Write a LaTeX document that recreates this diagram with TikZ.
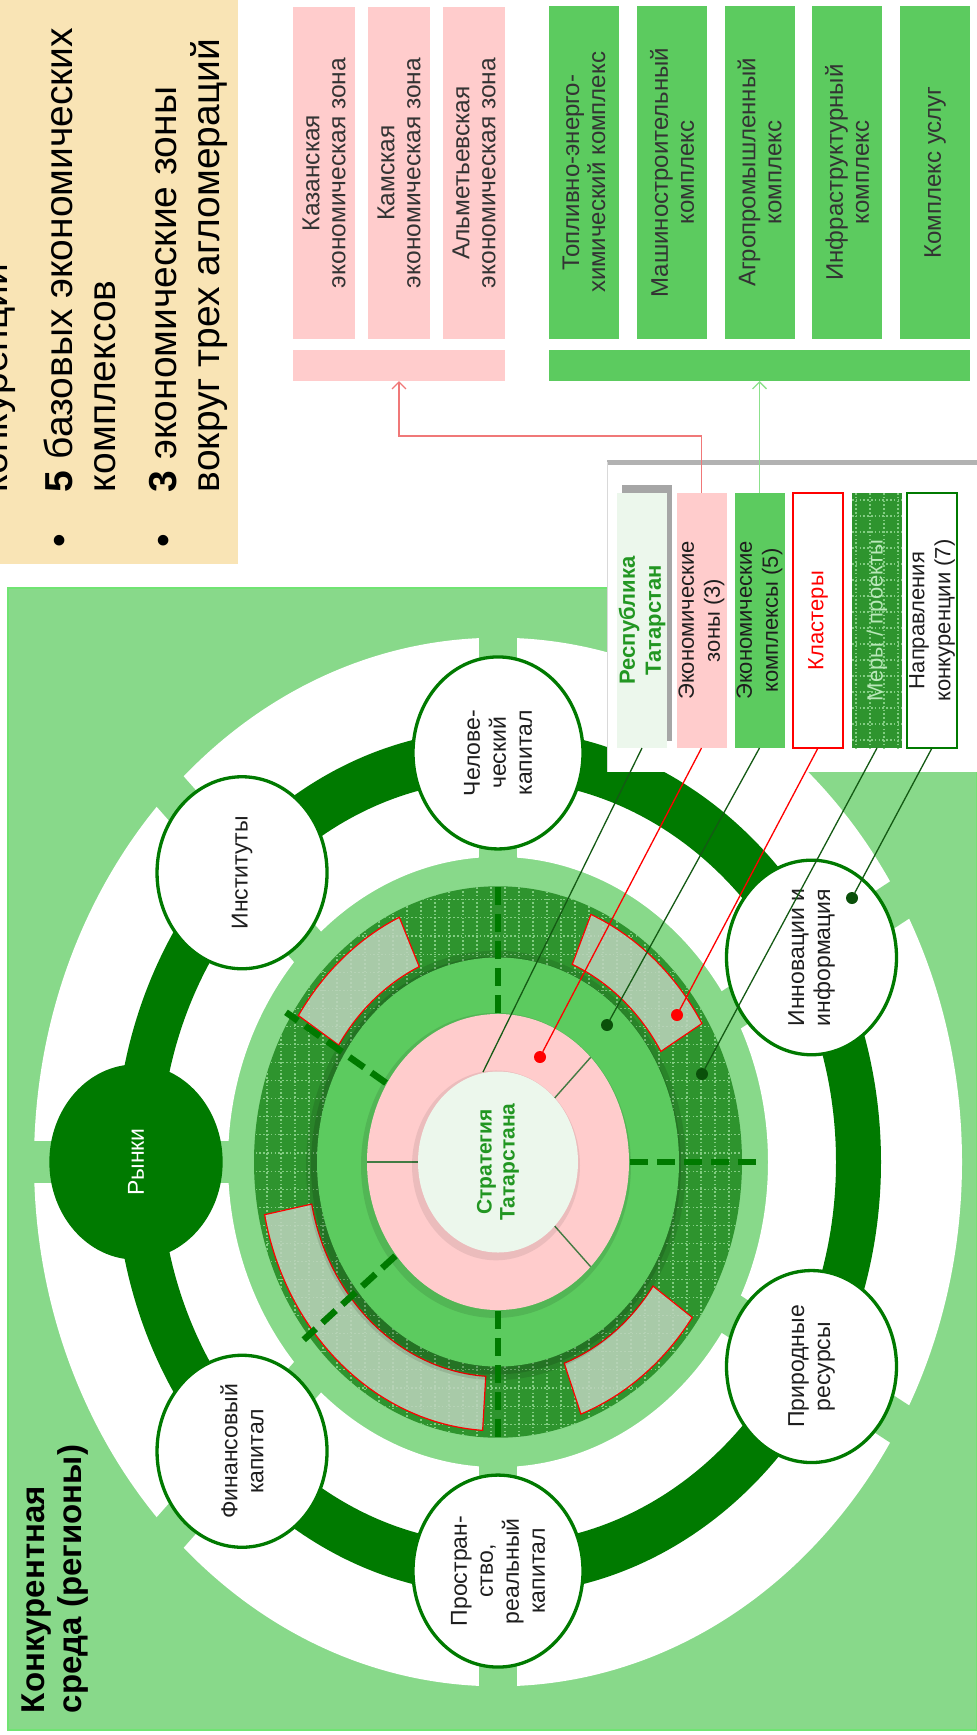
\documentclass[tikz,border=0pt]{standalone}
\usepackage{fontspec}
\setmainfont{Liberation Sans}
\usetikzlibrary{shapes.geometric, arrows.meta, calc}

\definecolor{bgGreen}{RGB}{136,217,138}
\definecolor{bgEdge}{RGB}{112,228,114}
\definecolor{bandGreen}{RGB}{0,122,0}
\definecolor{midGreen}{RGB}{92,203,95}
\definecolor{dotGreen}{RGB}{46,148,46}
\definecolor{gridGreen}{RGB}{130,205,130}
\definecolor{clusterGrey}{RGB}{190,212,190}
\definecolor{zonePink}{RGB}{255,204,204}
\definecolor{coreGreen}{RGB}{236,247,236}
\definecolor{noteYellow}{RGB}{249,228,181}
\definecolor{titleGreen}{RGB}{34,150,34}
\definecolor{txtGrey}{RGB}{51,51,51}
\definecolor{txtDark}{RGB}{30,30,30}
\definecolor{leaderGreen}{RGB}{20,90,20}
\definecolor{dotDark}{RGB}{10,80,10}
\definecolor{arrowPink}{RGB}{240,120,120}
\definecolor{arrowGreen}{RGB}{140,225,140}
\definecolor{measText}{RGB}{185,232,185}

\begin{document}
\begin{tikzpicture}[x=1pt, y=-1pt,
  every node/.style={inner sep=0pt, outer sep=0pt},
  boxlabel/.style={rotate=90, align=center, text=txtGrey},
  zonebox/.style={boxlabel, fill=zonePink, minimum width=332pt, minimum height=62pt,
    font=\fontsize{24.5}{26}\selectfont},
  complexbox/.style={boxlabel, fill=midGreen, minimum width=333pt, minimum height=70pt,
    font=\fontsize{24}{26}\selectfont},
  legendtile/.style={rotate=90, align=center, minimum width=255pt, minimum height=50pt,
    font=\fontsize{22}{26}\selectfont, text=txtDark},
  kcircle/.style={ellipse, rotate=90, align=center, minimum width=192pt, minimum height=170pt,
    draw=bandGreen, line width=3.3pt, fill=white, font=\fontsize{23}{26}\selectfont, text=txtDark},
  ytext/.style={rotate=90, font=\fontsize{39}{43}\selectfont, text=black},
  leaderdot/.style={circle, minimum size=12pt},
  leaderdark/.style={draw=leaderGreen, line width=1.3pt},
  leaderred/.style={draw=red, line width=1.3pt},
  gridline/.style={draw=gridGreen, line width=1.1pt, dash pattern=on 1.6pt off 2.2pt},
  spoke/.style={draw=bandGreen, line width=6.5pt, dash pattern=on 18pt off 9pt},
  zoneline/.style={draw=leaderGreen!80, line width=1.4pt},
  clusterseg/.style={fill=clusterGrey, fill opacity=0.85, draw=red, line width=1.2pt},
  linkarrow/.style={line width=1.3pt, -{Straight Barb[length=7pt, width=14pt]}},
]
\useasboundingbox (0,0) rectangle (977,1735);

% ---------- summary note ----------
\fill[noteYellow] (0,0) rectangle (238,564);
\node[ytext, anchor=base west] (noteA) at (8,492) {конкуренции};
\node[ytext, anchor=base] (bulletA) at (72,541) {•};
\node[ytext, anchor=base west] (noteB) at (72,492) {\textbf{5} базовых экономических};
\node[ytext, anchor=base west] (noteC) at (115,492) {комплексов};
\node[ytext, anchor=base] (bulletB) at (176,541) {•};
\node[ytext, anchor=base west] (noteD) at (176,492) {\textbf{3} экономические зоны};
\node[ytext, anchor=base west] (noteE) at (219,492) {вокруг трех агломераций};

% ---------- economic zones ----------
\node[zonebox] (zKaz) at (324,173) {Казанская\\экономическая зона};
\node[zonebox] (zKam) at (399,173) {Камская\\экономическая зона};
\node[zonebox] (zAlm) at (474,173) {Альметьевская\\экономическая зона};
\node[fill=zonePink, minimum width=212pt, minimum height=31pt] (pinkBar) at (399,365.5) {};

% ---------- economic complexes ----------
\node[complexbox] (cFuel) at (584,172.5) {Топливно-энерго-\\химический комплекс};
\node[complexbox] (cMach) at (672,172.5) {Машиностроительный\\комплекс};
\node[complexbox] (cAgro) at (759.5,172.5) {Агропромышленный\\комплекс};
\node[complexbox] (cInfr) at (847,172.5) {Инфраструктурный\\комплекс};
\node[complexbox] (cServ) at (935,172.5) {Комплекс услуг};
\node[fill=midGreen, minimum width=421pt, minimum height=31pt] (greenBar) at (759.5,365.5) {};

% ---------- competitive environment ----------
\filldraw[fill=bgGreen, draw=bgEdge, line width=1.2pt] (8,588) rectangle (977,1730);

\begin{scope}[shift={(498,1162)}, yscale=1.13]
  % white ring with gaps at the factors
  \fill[white, even odd rule] (0,0) circle (464) (0,0) circle (270);
  \foreach \a in {180,225,270,330,30,90,135}
    \fill[bgGreen, rotate=-\a] (256,-19) rectangle (474,19);
  % band linking the factors
  \fill[bandGreen, even odd rule] (0,0) circle (383) (0,0) circle (338);
  % measures ring with dotted texture
  \fill[dotGreen] (0,0) circle (244);
  \begin{scope}
    \clip (0,0) circle (244);
    \foreach \g in {-245,-231,...,245} \draw[gridline] (\g,-250) -- (\g,250);
    \foreach \g in {-248,-232,...,248} \draw[gridline] (-250,\g) -- (250,\g);
  \end{scope}
  % clusters
  \path[clusterseg] (213:190) arc[start angle=213, end angle=245.5, radius=190]
    -- (245.5:238) arc[start angle=245.5, end angle=213, radius=238] -- cycle;
  \path[clusterseg] (293:190) arc[start angle=293, end angle=329, radius=190]
    -- (329:238) arc[start angle=329, end angle=293, radius=238] -- cycle;
  \path[clusterseg] (35.3:190) arc[start angle=35.3, end angle=69.6, radius=190]
    -- (69.6:238) arc[start angle=69.6, end angle=35.3, radius=238] -- cycle;
  \path[clusterseg] (93.7:190) arc[start angle=93.7, end angle=168.7, radius=190]
    -- (168.7:238) arc[start angle=168.7, end angle=93.7, radius=238] -- cycle;
  % soft shade round the complexes ring
  \fill[black, opacity=0.10] (-2,3) circle (190);
  \fill[black, opacity=0.12] (-2,3) circle (185);
  % economic complexes ring
  \fill[midGreen] (0,0) circle (181);
  % economic zones ring
  \fill[black, opacity=0.10] (-2,3) circle (135);
  \fill[zonePink] (0,0) circle (131);
  \foreach \a in {180,315,45} \draw[zoneline] (\a:80) -- (\a:131);
  % complex boundaries
  \foreach \a/\r in {0/258,90/246,141/250,212/250,270/246}
    \draw[spoke] (\a:132) -- (\a:\r);
  % core
  \fill[black, opacity=0.08] (-2,3) circle (84);
  \node[ellipse, fill=coreGreen, minimum width=181pt, minimum height=160pt, rotate=90,
    align=center, text=titleGreen, font=\bfseries\fontsize{21}{23}\selectfont]
    (core) at (0,0) {Стратегия\\Татарстана};
  % factors of competitiveness
  \node[kcircle, fill=bandGreen, text=white] (nMarket) at (180:362) {Рынки};
  \node[kcircle] (nInst) at (225:362) {Институты};
  \node[kcircle] (nHuman) at (270:362) {Челове-\\ческий\\капитал};
  \node[kcircle] (nInnov) at (330:362) {Инновации и\\информация};
  \node[kcircle] (nNature) at (30:362) {Природные\\ресурсы};
  \node[kcircle] (nSpace) at (90:362) {Простран-\\ство,\\реальный\\капитал};
  \node[kcircle] (nFin) at (135:362) {Финансовый\\капитал};
\end{scope}

\node[rotate=90, anchor=north west, align=left, font=\bfseries\fontsize{33}{37}\selectfont]
  (envLabel) at (22,1713) {Конкурентная\\среда (регионы)};

% ---------- legend ----------
\fill[white] (607,462) rectangle (977,772);
\draw[gray!60, line width=5pt] (607,462) -- (977,462);
\draw[gray!30, line width=1pt] (607,462) -- (607,772);
\fill[gray!70] (622,485) rectangle (672,741);
\node[legendtile, fill=coreGreen, text=titleGreen, font=\bfseries\fontsize{22}{26}\selectfont]
  (tRep) at (642,620.5) {Республика\\Татарстан};
\node[legendtile, fill=zonePink] (tZone) at (701.5,620.5) {Экономические\\зоны (3)};
\node[legendtile, fill=midGreen] (tCompl) at (759.5,620.5) {Экономические\\комплексы (5)};
\node[legendtile, fill=white, draw=red, line width=1.5pt, text=red] (tClust) at (818,620.5) {Кластеры};
\fill[dotGreen] (852,493) rectangle (902,748);
\begin{scope}
  \clip (852,493) rectangle (902,748);
  \foreach \g in {856,870,...,900} \draw[gridline] (\g,493) -- (\g,748);
  \foreach \g in {500,516,...,748} \draw[gridline] (852,\g) -- (902,\g);
\end{scope}
\node[legendtile, text=measText] (tMeas) at (877,620.5) {Меры / проекты};
\node[legendtile, fill=white, draw=bandGreen, line width=2.5pt] (tDir) at (932,620.5) {Направления\\конкуренции (7)};

% ---------- links to the lists ----------
\coordinate (zoneTurn) at (399,436);
\draw[linkarrow, draw=arrowPink] (tZone.east) |- (zoneTurn) -- (pinkBar.south);
\draw[linkarrow, draw=arrowGreen] (tCompl.east) -- (greenBar.south);

% ---------- leaders from the legend ----------
\coordinate (repEnd) at (483,1072);
\node[leaderdot, fill=red] (dZone) at (540,1057) {};
\node[leaderdot, fill=dotDark] (dCompl) at (607,1025) {};
\node[leaderdot, fill=red] (dClust) at (677,1015) {};
\node[leaderdot, fill=dotDark] (dMeas) at (702,1074) {};
\node[leaderdot, fill=dotDark] (dDir) at (852,898) {};
\draw[leaderdark] (tRep.west) -- (repEnd);
\draw[leaderred] (tZone.west) -- (dZone);
\draw[leaderdark] (tCompl.west) -- (dCompl);
\draw[leaderred] (tClust.west) -- (dClust);
\draw[leaderdark] (tMeas.west) -- (dMeas);
\draw[leaderdark] (tDir.west) -- (dDir);
\end{tikzpicture}
\end{document}
